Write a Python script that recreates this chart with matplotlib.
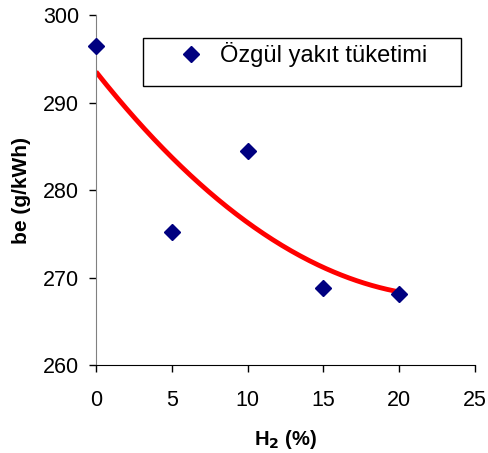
import numpy as np
import matplotlib
matplotlib.use("Agg")
import matplotlib.pyplot as plt
from matplotlib.patches import Rectangle

plt.rcParams['font.family'] = ['Liberation Sans', 'DejaVu Sans']

# data
h2 = [0, 5, 10, 15, 20]
be = [296.5, 275.2, 284.5, 268.9, 268.2]
series_label = "Özgül yakıt tüketimi"

# 2nd order polynomial trend line (as in the spreadsheet chart)
coef = np.polyfit(h2, be, 2)
xf = np.linspace(0, 20, 200)
yf = np.polyval(coef, xf)

fig = plt.figure(figsize=(4.88, 4.53), dpi=100)
ax = fig.add_axes([0.1967, 0.1932, 0.7767, 0.7726])

ax.plot(xf, yf, color="#ff0000", lw=3.5, zorder=2, solid_capstyle="butt")
ax.plot(h2, be, ls="none", marker="D", ms=8.5, color="#000080",
        label=series_label, zorder=3, clip_on=False)

ax.set_xlim(0, 25)
ax.set_ylim(260, 300)
ax.set_xticks([0, 5, 10, 15, 20, 25])
ax.set_yticks([260, 270, 280, 290, 300])
ax.spines["top"].set_visible(False)
ax.spines["right"].set_visible(False)
ax.spines["left"].set_color("#808080")
ax.tick_params(direction="out", length=5, labelsize=15.5, width=1)
ax.tick_params(axis="x", pad=13)
ax.tick_params(axis="y", pad=7)

ax.set_xlabel("H$_\\mathbf{2}$ (%)", fontsize=14.5, fontweight="bold", labelpad=12)
ax.set_ylabel("be (g/kWh)", fontsize=15, fontweight="bold", labelpad=9)

# legend box
ax.add_patch(Rectangle((0.124, 0.7986), 0.839, 0.1374, transform=ax.transAxes,
                       fill=False, ec="black", lw=1, clip_on=False, zorder=4))
ax.legend(loc="upper left", bbox_to_anchor=(0.2, 0.95), frameon=False,
          fontsize=17, handletextpad=0.85, borderaxespad=0, handlelength=0.8)

fig.savefig("out.png", dpi=100)
